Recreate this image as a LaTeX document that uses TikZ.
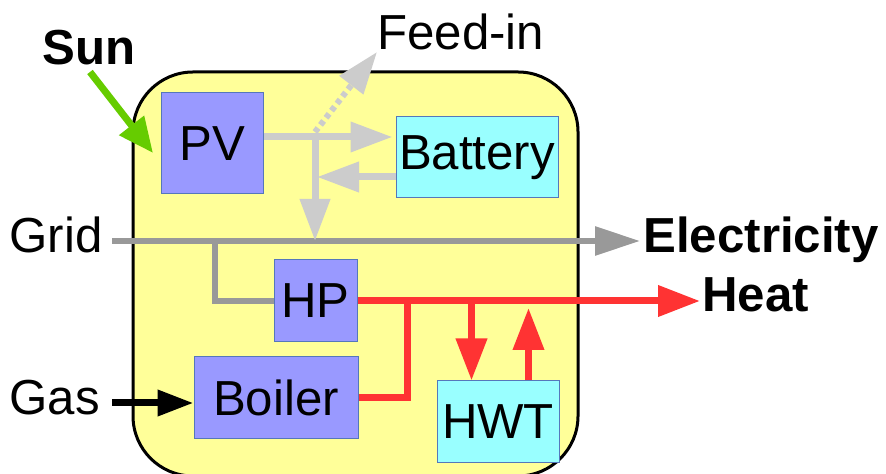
\documentclass[tikz,border=0pt]{standalone}
\usepackage{fontspec}
\setmainfont{Liberation Sans}
\usetikzlibrary{positioning, arrows.meta, calc}
\definecolor{sysYellow}{HTML}{FFFF99}
\definecolor{unitBlue}{HTML}{9999FF}
\definecolor{storeCyan}{HTML}{99FFFF}
\definecolor{edgeBlue}{HTML}{5577BB}
\definecolor{elecDark}{HTML}{999999}
\definecolor{elecLight}{HTML}{CCCCCC}
\definecolor{heatRed}{HTML}{FF3333}
\definecolor{sunGreen}{HTML}{66CC00}

\begin{document}
\begin{tikzpicture}[x=0.5pt, y=-0.5pt,
    unit/.style={draw=edgeBlue, line width=0.5pt, fill=unitBlue, inner sep=0pt, font=\fontsize{24.6}{28}\selectfont},
    store/.style={unit, fill=storeCyan},
    io_label/.style={inner sep=0pt, font=\fontsize{24.6}{28}\selectfont},
    io_bold/.style={inner sep=0pt, font=\fontsize{24.6}{28}\selectfont\bfseries},
    gridflow/.style={elecDark, line width=3pt},
    pvflow/.style={elecLight, line width=3.5pt, -{Triangle[length=21pt, width=14.5pt]}},
    heatflow/.style={heatRed, line width=3.5pt},
    heattip/.style={-{Triangle[length=21pt, width=15pt]}}
]
\useasboundingbox (0,0) rectangle (886,474);
\node[draw, line width=1.5pt, fill=sysYellow, rounded corners=30pt, minimum width=222.5pt, minimum height=202pt] (system) at (355.5,274) {};

\node[unit, minimum width=51pt, minimum height=50.5pt] (pv) at (212,143.5) {PV};
\node[store, minimum width=81pt, minimum height=40.5pt] (battery) at (477,157.5) {Battery};
\node[unit, minimum width=41.5pt, minimum height=41pt] (hp) at (315.5,301) {HP};
\node[unit, minimum width=82pt, minimum height=40.5pt] (boiler) at (276,397.5) {Boiler};
\node[store, minimum width=61pt, minimum height=40.5pt] (hwt) at (498,421.5) {HWT};

\node[io_bold, anchor=base west] (sun) at (42,65) {Sun};
\node[io_label, anchor=base east] (grid) at (103,253) {Grid};
\node[io_label, anchor=base east] (gas) at (100,415) {Gas};
\node[io_label, anchor=base west] (feedin) at (377,50) {Feed-in};
\node[io_bold, anchor=base west] (elec) at (643,253) {Electricity};
\node[io_bold, anchor=base west] (heat) at (702,312) {Heat};

\coordinate (suntail) at (90,72);
\coordinate (suntip) at (153,153);
\coordinate (gridin) at (112,241);
\coordinate (hptap) at (215,241);
\coordinate (pvbus) at (315,137);
\coordinate (feedtip) at (377,52);
\coordinate (gasin) at (112,403);
\coordinate (heatbus) at (407,301);

\draw[sunGreen, line width=3.5pt, -{Triangle[length=17.5pt, width=15pt]}] (suntail) -- (suntip);
\draw[gridflow, -{Triangle[length=22.5pt, width=14pt]}] (gridin) -- ([xshift=-1.5pt]elec.west |- gridin);
\draw[gridflow] (hptap) |- (hp.west);
\draw[pvflow] (pv.east |- pvbus) -- ([xshift=-1.5pt]battery.west |- pvbus);
\draw[pvflow] (pvbus) -- (pvbus |- gridin);
\draw[pvflow] (battery.west |- 0,177) -- ([xshift=1pt]pvbus |- 0,177);
\draw[pvflow, line width=3pt, dash pattern=on 2.5pt off 2pt] ([yshift=2.5pt]pvbus) -- (feedtip);
\draw[black, line width=3.5pt, -{Triangle[length=18pt, width=12.5pt]}] (gasin) -- (boiler.west |- gasin);
\draw[heatflow, heattip] (hp.east) -- ([xshift=-1pt]heat.west |- hp.east);
\draw[heatflow] (boiler.east) -| (heatbus);
\draw[heatflow, heattip] ([xshift=17.5pt]hwt.north west |- hp.east) -- ([xshift=17.5pt]hwt.north west);
\draw[heatflow, heattip] ([xshift=-15.5pt]hwt.north east) -- ([xshift=-15.5pt, yshift=-3.5pt]hwt.north east |- hp.east);
\end{tikzpicture}
\end{document}
